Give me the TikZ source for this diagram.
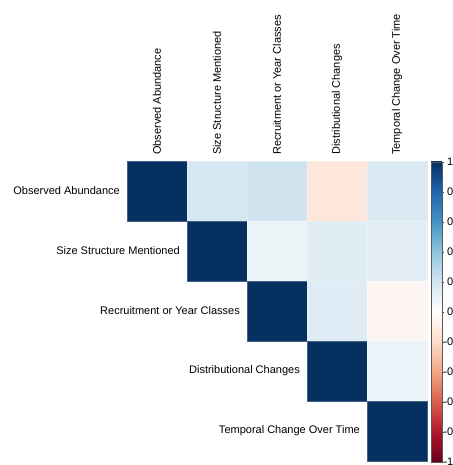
\documentclass[tikz,border=0pt]{standalone}
\usepackage{fontspec}
\setmainfont{Liberation Sans}
\definecolor{dg}{HTML}{06305F}
\definecolor{cA}{HTML}{D5E7F0}
\definecolor{cB}{HTML}{D0E4EF}
\definecolor{cC}{HTML}{FDE6DA}
\definecolor{cD}{HTML}{DBE9F2}
\definecolor{cE}{HTML}{EDF4F8}
\definecolor{cF}{HTML}{E0ECF4}
\definecolor{cG}{HTML}{E3EDF5}
\definecolor{cH}{HTML}{E0ECF5}
\definecolor{cI}{HTML}{FCF5F2}
\definecolor{cJ}{HTML}{EBF3F8}
\definecolor{p0}{HTML}{053061}
\definecolor{p1}{HTML}{2166AC}
\definecolor{p2}{HTML}{4393C3}
\definecolor{p3}{HTML}{92C5DE}
\definecolor{p4}{HTML}{D1E5F0}
\definecolor{p5}{HTML}{FFFFFF}
\definecolor{p6}{HTML}{FDDBC7}
\definecolor{p7}{HTML}{F4A582}
\definecolor{p8}{HTML}{D6604D}
\definecolor{p9}{HTML}{B2182B}
\definecolor{p10}{HTML}{67001F}
\begin{document}
\begin{tikzpicture}[x=1pt,y=1pt,
  cell/.style={minimum width=60pt,minimum height=60pt,inner sep=0pt,outer sep=0pt,draw=#1!75!white,fill=#1,line width=0.5pt},
  lab/.style={inner sep=0pt,font=\fontsize{11}{13}\selectfont,text=black},
  rowlab/.style={lab,anchor=east},
  collab/.style={lab,anchor=west,rotate=90},
  ticklab/.style={lab,anchor=west}]
\useasboundingbox (0,0) rectangle (452,465);
\clip (0,0) rectangle (452,465);
% cells: center x = 157+60(c-1), y = 334-60r
\node[cell=dg] (c11) at (157,274) {};
\node[cell=cA] (c12) at (217,274) {};
\node[cell=cB] (c13) at (277,274) {};
\node[cell=cC] (c14) at (337,274) {};
\node[cell=cD] (c15) at (397,274) {};
\node[cell=dg] (c22) at (217,214) {};
\node[cell=cE] (c23) at (277,214) {};
\node[cell=cF] (c24) at (337,214) {};
\node[cell=cG] (c25) at (397,214) {};
\node[cell=dg] (c33) at (277,154) {};
\node[cell=cH] (c34) at (337,154) {};
\node[cell=cI] (c35) at (397,154) {};
\node[cell=dg] (c44) at (337,94) {};
\node[cell=cJ] (c45) at (397,94) {};
\node[cell=dg] (c55) at (397,34) {};
% row labels
\node[rowlab] (r1) at (120,274) {Observed Abundance};
\node[rowlab] (r2) at (180,214) {Size Structure Mentioned};
\node[rowlab] (r3) at (240,154) {Recruitment or Year Classes};
\node[rowlab] (r4) at (300,94) {Distributional Changes};
\node[rowlab] (r5) at (360,34) {Temporal Change Over Time};
% column labels
\node[collab] (k1) at (157,310) {Observed Abundance};
\node[collab] (k2) at (217,310) {Size Structure Mentioned};
\node[collab] (k3) at (277,310) {Recruitment or Year Classes};
\node[collab] (k4) at (337,310) {Distributional Changes};
\node[collab] (k5) at (397,310) {Temporal Change Over Time};
% colour bar
\foreach \k [evaluate=\k as \kn using int(\k+1)] in {0,...,9}{
  \shade[top color=p\k, bottom color=p\kn] (431,{303-30*(\k+1)}) rectangle (442,{303-30*\k+0.3});
}
\draw[draw=black!65,line width=0.6pt] (431,3) rectangle (442.5,303);
\foreach \v/\t [count=\i from 0] in {1/\phantom{-}1,0.8/\phantom{-}0.8,0.6/\phantom{-}0.6,0.4/\phantom{-}0.4,0.2/\phantom{-}0.2,0/\phantom{-}0,-0.2/-0.2,-0.4/-0.4,-0.6/-0.6,-0.8/-0.8,-1/-1}{
  \coordinate (t\i) at (442.5,{303-(1-\v)*150});
  \draw[black!75,line width=0.6pt] (t\i) -- ++(1.8,0);
  \node[ticklab] (tl\i) at ([xshift=0.8pt]t\i) {\t};
}
\end{tikzpicture}
\end{document}
